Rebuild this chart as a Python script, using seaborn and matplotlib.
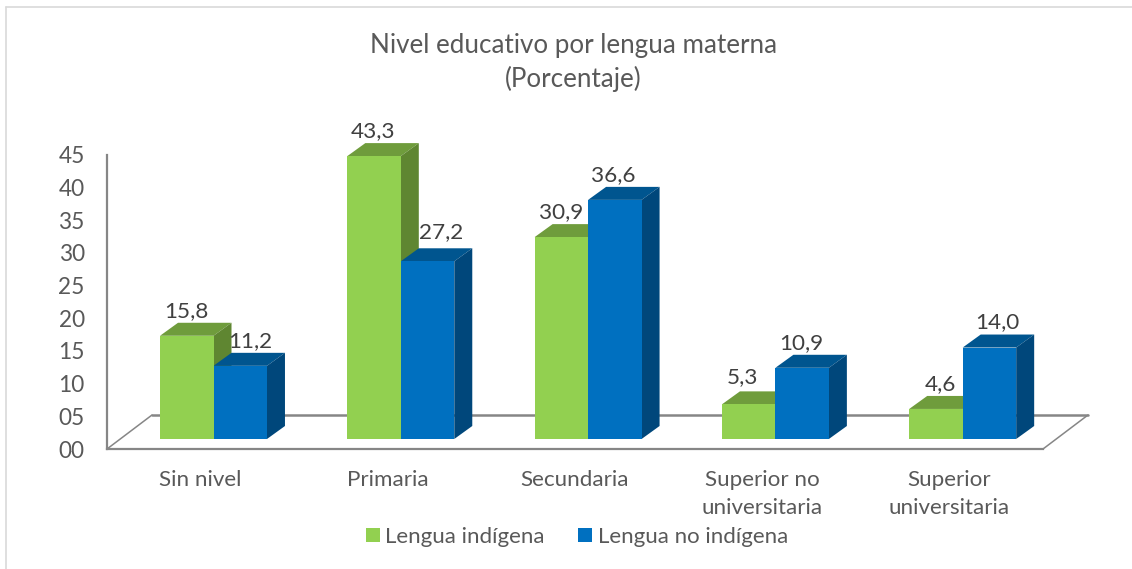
import pandas as pd
import seaborn as sns
import matplotlib.pyplot as plt
from matplotlib.lines import Line2D

# Values
categories = ['Sin nivel', 'Primaria', 'Secundaria', 'Superior no\nuniversitaria', 'Superior\nuniversitaria']
series_names = ['Lengua indígena', 'Lengua no indígena']
indigena = [15.8, 43.3, 30.9, 5.3, 4.6]
no_indigena = [11.2, 27.2, 36.6, 10.9, 14.0]
y_ticks = [0, 5, 10, 15, 20, 25, 30, 35, 40, 45]
y_tick_labels = ['00', '05', '10', '15', '20', '25', '30', '35', '40', '45']

df = pd.DataFrame({
    'Nivel': categories * 2,
    'Lengua': [series_names[0]] * 5 + [series_names[1]] * 5,
    'Porcentaje': indigena + no_indigena,
})

W, H = 1132, 569
front = {series_names[0]: '#92D050', series_names[1]: '#0070C0'}
top_col = ['#6F9C3C', '#00558F']
side_col = ['#5F8631', '#00477B']
grey = '#868686'
text_col = '#595959'

sns.set_theme(style='white')
plt.rcParams['font.family'] = ['Lato', 'DejaVu Sans']

fig = plt.figure(figsize=(W / 100, H / 100), dpi=100)


def box(left, right, bottom_y, top_y):
    return [left / W, 1 - bottom_y / H, (right - left) / W, (bottom_y - top_y) / H]


# Axis frame and floor, sitting 10 px under the bars
ax_axis = fig.add_axes(box(107, 1043, 449, 155))
ax_axis.set_xlim(-0.5, 4.5)
ax_axis.set_ylim(0, 45)
ax_axis.set_xticks(range(5))
ax_axis.set_xticklabels(categories, fontsize=16.1, color=text_col, linespacing=1.52)
ax_axis.set_yticks(y_ticks)
ax_axis.set_yticklabels(y_tick_labels, fontsize=16.3, color=text_col)
ax_axis.tick_params(axis='y', length=6, width=1.0, color=grey, pad=10)
ax_axis.tick_params(axis='x', length=0, pad=15)
for s in ['top', 'right']:
    ax_axis.spines[s].set_visible(False)
for s in ['left', 'bottom']:
    ax_axis.spines[s].set_color(grey)
    ax_axis.spines[s].set_linewidth(1.6)

floor_dx = 45 / (936 / 5)
floor_dy = 34 / (294 / 45)
ax_axis.add_line(Line2D([-0.5, -0.5 + floor_dx], [0, floor_dy], color=grey, lw=1.1, clip_on=False))
ax_axis.add_line(Line2D([-0.5 + floor_dx, 4.5 + floor_dx], [floor_dy, floor_dy], color=grey, lw=1.8, clip_on=False))
ax_axis.add_line(Line2D([4.5, 4.5 + floor_dx], [0, floor_dy], color=grey, lw=1.1, clip_on=False))

# Bars
ax = fig.add_axes(box(119.85, 1056.35, 439, 145))
ax.patch.set_alpha(0)
sns.barplot(data=df, x='Nivel', y='Porcentaje', hue='Lengua', order=categories,
            hue_order=series_names, palette=front, saturation=1, width=0.571, gap=0,
            linewidth=0, ax=ax, zorder=5)
ax.set_xlim(-0.5, 4.5)
ax.set_ylim(0, 45)
ax.axis('off')

# Fake 3D depth on every bar
dx = 18 / (936.5 / 5)
dy = 13 / (294 / 45)
for k, container in enumerate(ax.containers):
    for bar in container:
        x0 = bar.get_x()
        x1 = x0 + bar.get_width()
        h = bar.get_height()
        ax.fill([x0, x0 + dx, x1 + dx, x1], [h, h + dy, h + dy, h], color=top_col[k],
                lw=0, zorder=3 + k, clip_on=False)
        ax.fill([x1, x1 + dx, x1 + dx, x1], [0, dy, h + dy, h], color=side_col[k],
                lw=0, zorder=3 + k, clip_on=False)

# Data labels, nudged like the hand-placed ones in the original
nudges = [[(0, 0), (-1, 0), (0, 0), (-6, 2), (4, 0)],
          [(10, 0), (14, 4), (-2, 0), (-1, 0), (8, 0)]]
for k, container in enumerate(ax.containers):
    for i, bar in enumerate(container):
        nx, ny = nudges[k][i]
        ax.annotate(f'{bar.get_height():.1f}'.replace('.', ','),
                    (bar.get_x() + bar.get_width() / 2, bar.get_height()),
                    xytext=(nx * 0.72, (25 + ny) * 0.72), textcoords='offset points',
                    ha='center', va='center', fontsize=16.2, color='#404040',
                    annotation_clip=False, zorder=8)

# Legend
handles, labels = ax.get_legend_handles_labels()
ax.get_legend().remove()
leg = fig.legend(handles, labels, ncol=2, loc='center', bbox_to_anchor=(577 / W, 1 - 537 / H),
                 frameon=False, fontsize=16, handlelength=0.63, handleheight=0.63,
                 handletextpad=0.25, columnspacing=1.5, labelcolor=text_col)

# Title
fig.suptitle('Nivel educativo por lengua materna\n(Porcentaje)', x=573.5 / W, y=1 - 62.5 / H,
             va='center', ha='center', fontsize=18.7, color=text_col, linespacing=1.42)

# Chart frame, only the top and left edges are inside the crop
fig.add_artist(Line2D([6 / W, 6 / W], [0, 1 - 7 / H], color='#D9D9D9', lw=1.2))
fig.add_artist(Line2D([6 / W, 1], [1 - 7 / H, 1 - 7 / H], color='#D9D9D9', lw=1.2))

plt.savefig('out.png', dpi=100)
plt.close()
